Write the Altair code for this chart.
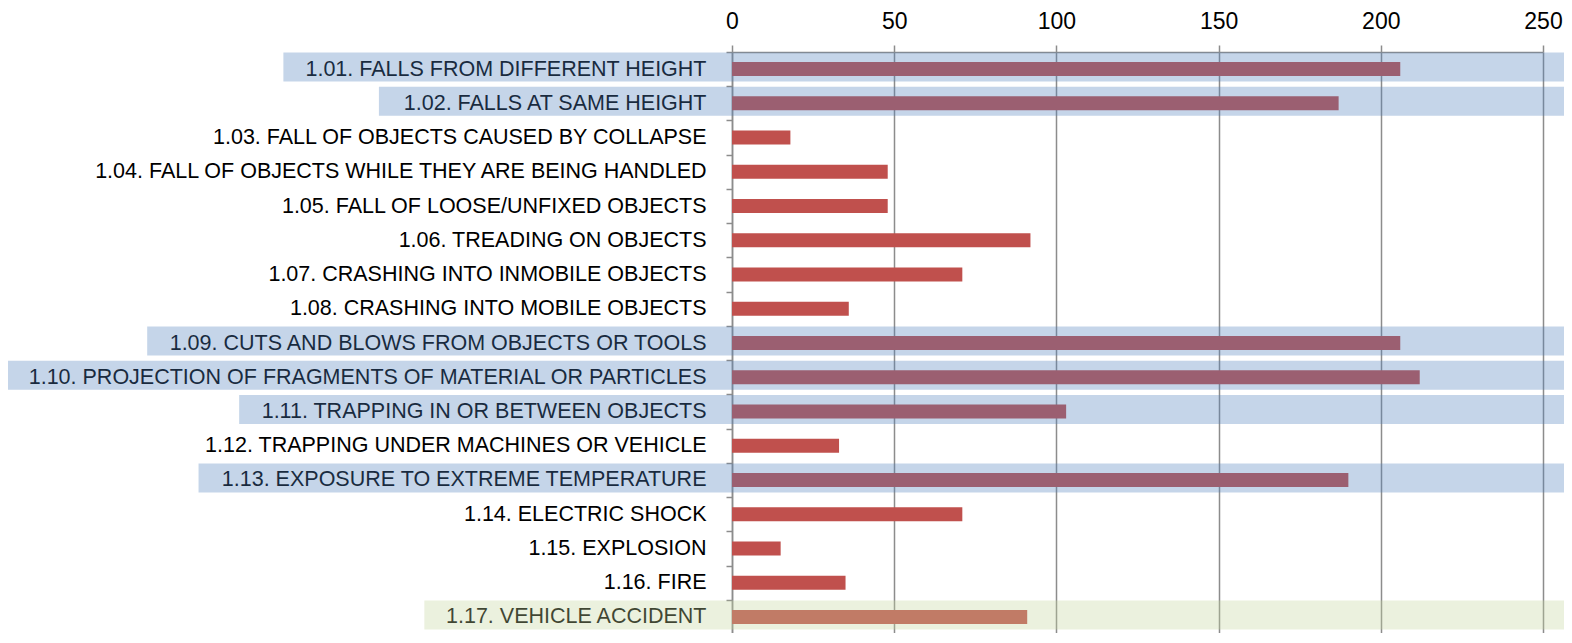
import altair as alt
import pandas as pd

categories = [
    "1.01. FALLS FROM DIFFERENT HEIGHT",
    "1.02. FALLS AT SAME HEIGHT",
    "1.03. FALL OF OBJECTS CAUSED BY COLLAPSE",
    "1.04. FALL OF OBJECTS WHILE THEY ARE BEING HANDLED",
    "1.05. FALL OF LOOSE/UNFIXED OBJECTS",
    "1.06. TREADING ON OBJECTS",
    "1.07. CRASHING INTO INMOBILE OBJECTS",
    "1.08. CRASHING INTO MOBILE OBJECTS",
    "1.09. CUTS AND BLOWS FROM OBJECTS OR TOOLS",
    "1.10. PROJECTION OF FRAGMENTS OF MATERIAL OR PARTICLES",
    "1.11. TRAPPING IN OR BETWEEN OBJECTS",
    "1.12. TRAPPING UNDER MACHINES OR VEHICLE",
    "1.13. EXPOSURE TO EXTREME TEMPERATURE",
    "1.14. ELECTRIC SHOCK",
    "1.15. EXPLOSION",
    "1.16. FIRE",
    "1.17. VEHICLE ACCIDENT",
]
values = [206, 187, 18, 48, 48, 92, 71, 36, 206, 212, 103, 33, 190, 71, 15, 35, 91]
highlight = ["blue", "blue", "", "", "", "", "", "", "blue", "blue", "blue", "", "blue", "", "", "", "green"]
tick_values = [0, 50, 100, 150, 200, 250]

FONT = "Liberation Sans"
FS = 21.5
TFS = 23
PAD_L, PAD_T = 724, 44
W = 811             # plot width (0..250)
ROWS_H = 582        # full height of the 17 rows (partly cropped at bottom)
VIEW_H = 581        # visible part
SVG_W = 1556
LABEL_GAP = 26      # plot edge to label right edge
HL_PAD = 20         # highlight padding left of label

# Arial / Liberation Sans advance widths (units per 1000)
AW = {c: 556 for c in "0123456789"}
AW.update({".": 278, " ": 278, "/": 278,
           "A": 667, "B": 667, "C": 722, "D": 722, "E": 667, "F": 611, "G": 778,
           "H": 722, "I": 278, "J": 500, "K": 667, "L": 556, "M": 833, "N": 722,
           "O": 778, "P": 667, "Q": 778, "R": 722, "S": 667, "T": 611, "U": 722,
           "V": 667, "W": 944, "X": 667, "Y": 667, "Z": 611})


def text_width(s):
    return sum(AW.get(ch, 600) for ch in s) * FS / 1000.0


df = pd.DataFrame({"cat": categories, "value": values})

hl_colors = {"blue": "#4F81BD", "green": "#C3D69B"}
hl_alpha = {"blue": 0.33, "green": 0.33}
hl = pd.DataFrame({
    "cat": [c for c, h in zip(categories, highlight) if h],
    "bx": [-(LABEL_GAP + text_width(c) + HL_PAD) for c, h in zip(categories, highlight) if h],
    "fillc": [hl_colors[h] for h in highlight if h],
    "alpha": [hl_alpha[h] for h in highlight if h],
})
hl["bx2"] = SVG_W - PAD_L + 20

GRAY = "#8C8C8C"
y_enc = alt.Y("cat:N", sort=categories, title=None,
              scale=alt.Scale(paddingInner=0, paddingOuter=0, range=[0, ROWS_H]),
              axis=alt.Axis(orient="left", tickBand="extent", grid=False,
                            domainColor=GRAY, domainWidth=1.5,
                            tickColor=GRAY, tickWidth=1.5, tickSize=6,
                            labelFont=FONT, labelFontSize=FS, labelColor="#000000",
                            labelPadding=LABEL_GAP - 6, labelLimit=1000))

bars = alt.Chart(df).mark_bar(size=14, color="#C0504D").encode(
    x=alt.X("value:Q", title=None,
            scale=alt.Scale(domain=[0, 250], nice=False, zero=True),
            axis=alt.Axis(orient="top", values=tick_values, grid=True,
                          gridColor=GRAY, gridWidth=1.5,
                          domainColor=GRAY, domainWidth=1.5,
                          tickColor=GRAY, tickWidth=1.5, tickSize=7,
                          labelFont=FONT, labelFontSize=TFS, labelColor="#000000",
                          labelPadding=12, labelFlush=False)),
    y=y_enc,
)

overlay = alt.Chart(hl).mark_bar(size=29, yOffset=-2).encode(
    x=alt.X("bx:Q", scale=None, axis=None),
    x2=alt.X2("bx2:Q"),
    y=y_enc,
    fill=alt.Fill("fillc:N", scale=None),
    opacity=alt.Opacity("alpha:Q", scale=None),
)

chart = alt.layer(bars, overlay).resolve_scale(x="independent").properties(
    width=W, height=VIEW_H,
    autosize=alt.AutoSizeParams(type="none"),
    padding={"left": PAD_L, "top": PAD_T, "right": SVG_W - PAD_L - W, "bottom": 0},
).configure_view(stroke=None)

chart.save("out.html", embed_options={"renderer": "svg", "actions": False})
